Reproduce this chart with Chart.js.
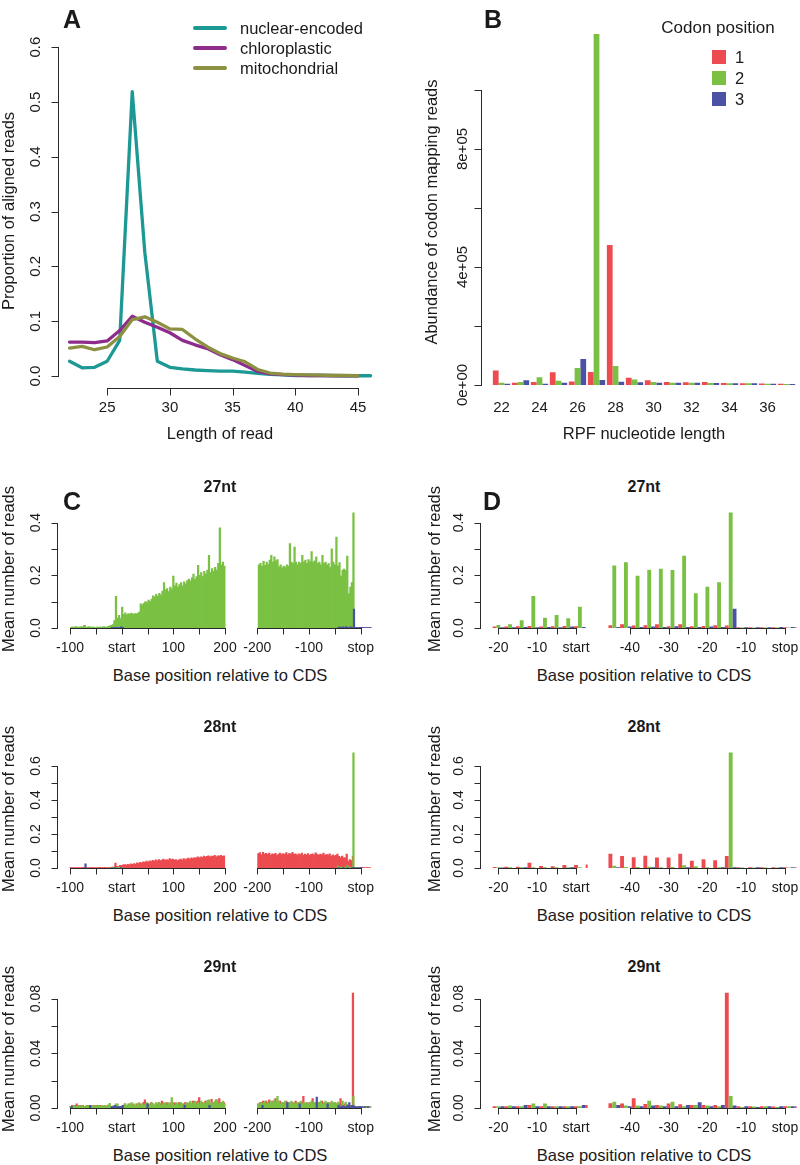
<!DOCTYPE html>
<html>
<head>
<meta charset="utf-8">
<title>Read length and codon position profiles</title>
<script src="https://cdn.jsdelivr.net/npm/chart.js@4.4.1/dist/chart.umd.min.js"></script>
<style>
  html, body { margin: 0; padding: 0; background: #fff; }
  #page { position: relative; width: 800px; height: 1165px; overflow: hidden;
          font-family: "Liberation Sans", Arial, Helvetica, sans-serif; color: #1a1a1a; }
  #page canvas { position: absolute; }
  .txt { position: absolute; white-space: nowrap; line-height: 1; transform: translate(-50%, -50%); }
  .rot { transform: translate(-50%, -50%) rotate(-90deg); }
  .lft { transform: translate(0, -50%); }
  .panel { font-weight: bold; font-size: 25px; }
  .title { font-weight: bold; font-size: 16px; }
  .axis { font-size: 16.5px; }
  .sw { position: absolute; }
</style>
</head>
<body>
<div id="page">
  <div class="txt panel" style="left:72px;top:19px">A</div>
  <div class="txt panel" style="left:493px;top:19px">B</div>
  <div class="txt panel" style="left:72px;top:501px">C</div>
  <div class="txt panel" style="left:492px;top:501px">D</div>

  <!-- legend A -->
  <div class="sw" style="left:193px;top:25.8px;width:34px;height:4.5px;border-radius:2px;background:#1c9995"></div>
  <div class="sw" style="left:193px;top:45.8px;width:34px;height:4.5px;border-radius:2px;background:#8e2c8e"></div>
  <div class="sw" style="left:193px;top:65.8px;width:34px;height:4.5px;border-radius:2px;background:#8c9141"></div>
  <div class="txt lft axis" style="left:240px;top:28px">nuclear-encoded</div>
  <div class="txt lft axis" style="left:240px;top:48px">chloroplastic</div>
  <div class="txt lft axis" style="left:240px;top:68px">mitochondrial</div>

  <!-- legend B -->
  <div class="txt" style="left:718px;top:27px;font-size:17px">Codon position</div>
  <div class="sw" style="left:712px;top:50px;width:14px;height:14px;background:#ec4b4f"></div>
  <div class="sw" style="left:712px;top:71px;width:14px;height:14px;background:#7ac143"></div>
  <div class="sw" style="left:712px;top:92px;width:14px;height:14px;background:#4b52a4"></div>
  <div class="txt lft axis" style="left:735px;top:57px">1</div>
  <div class="txt lft axis" style="left:735px;top:78px">2</div>
  <div class="txt lft axis" style="left:735px;top:99px">3</div>

  <div class="txt axis" style="left:220px;top:433px">Length of read</div>
  <div class="txt axis" style="left:644px;top:433px">RPF nucleotide length</div>
  <div class="txt axis rot" style="left:8px;top:211px">Proportion of aligned reads</div>
  <div class="txt axis rot" style="left:431px;top:212px">Abundance of codon mapping reads</div>

  <div class="txt title" style="left:220px;top:487px">27nt</div>
  <div class="txt title" style="left:644px;top:487px">27nt</div>
  <div class="txt title" style="left:220px;top:727px">28nt</div>
  <div class="txt title" style="left:644px;top:727px">28nt</div>
  <div class="txt title" style="left:220px;top:967px">29nt</div>
  <div class="txt title" style="left:644px;top:967px">29nt</div>

  <div class="txt axis" style="left:220px;top:675px">Base position relative to CDS</div>
  <div class="txt axis" style="left:644px;top:675px">Base position relative to CDS</div>
  <div class="txt axis" style="left:220px;top:915px">Base position relative to CDS</div>
  <div class="txt axis" style="left:644px;top:915px">Base position relative to CDS</div>
  <div class="txt axis" style="left:220px;top:1155px">Base position relative to CDS</div>
  <div class="txt axis" style="left:644px;top:1155px">Base position relative to CDS</div>

  <div class="txt axis rot" style="left:8px;top:569px">Mean number of reads</div>
  <div class="txt axis rot" style="left:434px;top:569px">Mean number of reads</div>
  <div class="txt axis rot" style="left:8px;top:809px">Mean number of reads</div>
  <div class="txt axis rot" style="left:434px;top:809px">Mean number of reads</div>
  <div class="txt axis rot" style="left:8px;top:1049px">Mean number of reads</div>
  <div class="txt axis rot" style="left:434px;top:1049px">Mean number of reads</div>
</div>

<script>
// ---- A: proportion of aligned reads by read length ----
const readLengths = [22, 23, 24, 25, 26, 27, 28, 29, 30, 31, 32, 33, 34, 35, 36, 37, 38, 39, 40, 41, 42, 43, 44, 45, 46];
const nuclearEncoded = [0.027, 0.015, 0.016, 0.027, 0.065, 0.519, 0.226, 0.027, 0.016, 0.013, 0.011, 0.010, 0.009,
  0.009, 0.007, 0.005, 0.003, 0.002, 0.001, 0.001, 0.001, 0.001, 0.0005, 0.0005, 0.0005];
const chloroplastic = [0.062, 0.062, 0.061, 0.064, 0.083, 0.109, 0.098, 0.089, 0.079, 0.065, 0.057, 0.050,
  0.039, 0.030, 0.019, 0.0085, 0.004, 0.0025, 0.0015, 0.001, 0.001, 0.0005, 0.0005, 0.0005];
const mitochondrial = [0.051, 0.054, 0.048, 0.053, 0.072, 0.103, 0.108, 0.098, 0.086, 0.085, 0.068, 0.053,
  0.041, 0.033, 0.026, 0.012, 0.0055, 0.0035, 0.0025, 0.002, 0.0015, 0.001, 0.001, 0.0005];

// ---- B: codon mapping reads by RPF length ----
const rpfLengths = [22, 23, 24, 25, 26, 27, 28, 29, 30, 31, 32, 33, 34, 35, 36, 37];
const codonPos1 = [49000, 8000, 10000, 43000, 12000, 44000, 475000, 25000, 16000, 10000, 9000, 10000, 7000, 5600, 5000, 4000];
const codonPos2 = [8000, 10000, 26000, 14000, 58000, 1190000, 64000, 19000, 10000, 8000, 8000, 7000, 6000, 5600, 4500, 3500];
const codonPos3 = [4500, 16000, 4500, 8000, 88000, 17000, 11000, 9000, 8000, 8000, 8000, 7000, 5600, 5600, 4500, 3400];

// ---- C / D: mean reads per base, by codon position ----
// full arrays hold one value per codon; [base, value] lists hold only the non-zero bases
const startFirstBase = -99;   // first codon position-1 base of the start window (-100..200)
const stopFirstBase = -198;   // first codon position-1 base of the stop window (-200..+20)

const nt27StartPos1 = [[-72, 0.01], [-21, 0.004], [-18, 0.004], [-15, 0.005], [-12, 0.006], [-9, 0.004], [-6, 0.005],
  [-3, 0.006], [0, 0.005], [30, 0.004], [60, 0.005], [96, 0.004], [120, 0.005], [150, 0.004], [180, 0.005]];
const nt27StartPos2 = [0.003, 0.004, 0.003, 0.005, 0.004, 0.003, 0.004, 0.005, 0.003, 0.008,
  0.003, 0.004, 0.005, 0.003, 0.004, 0.003, 0.002, 0.004, 0.003, 0.004, 0.003, 0.005, 0.004, 0.003,
  0.006, 0.008, 0.01, 0.013, 0.028, 0.12, 0.038, 0.048, 0.036, 0.079,
  0.052, 0.058, 0.05, 0.055, 0.053, 0.057, 0.052, 0.055, 0.054, 0.056, 0.06,
  0.092, 0.088, 0.094, 0.1, 0.096, 0.106, 0.1, 0.11, 0.122, 0.118, 0.128, 0.12, 0.132, 0.125, 0.14,
  0.172, 0.145, 0.15, 0.138, 0.155, 0.148, 0.197, 0.16, 0.17, 0.155,
  0.165, 0.172, 0.16, 0.175, 0.168, 0.18, 0.186, 0.178, 0.19, 0.205,
  0.185, 0.195, 0.238, 0.2, 0.21, 0.195, 0.215, 0.205, 0.22, 0.276,
  0.21, 0.225, 0.215, 0.23, 0.22, 0.245, 0.38, 0.24, 0.25, 0.235];
const nt27StartPos3 = [[-19, 0.002], [-16, 0.002], [-13, 0.003], [-10, 0.002], [-7, 0.003], [-4, 0.002], [-1, 0.004], [2, 0.003]];
const nt27StopPos1 = [[-180, 0.004], [-150, 0.005], [-120, 0.004], [-90, 0.005], [-60, 0.004], [-45, 0.009], [-42, 0.013],
  [-39, 0.008], [-36, 0.009], [-33, 0.013], [-30, 0.005], [-27, 0.013], [-24, 0.005], [-21, 0.006], [-18, 0.009],
  [-15, 0.008], [-12, 0.002], [-9, 0.002], [-6, 0.002], [-3, 0.002], [0, 0.002], [3, 0.002], [6, 0.002], [9, 0.002],
  [12, 0.002], [15, 0.002], [18, 0.002]];
const nt27StopPos2 = [0.24, 0.245, 0.235, 0.253, 0.238, 0.25, 0.242, 0.258, 0.276, 0.25,
  0.27, 0.255, 0.26, 0.232, 0.24, 0.228, 0.235, 0.23, 0.24, 0.235,
  0.32, 0.25, 0.245, 0.307, 0.25, 0.24, 0.25, 0.245, 0.276, 0.25,
  0.258, 0.245, 0.26, 0.252, 0.29, 0.25, 0.255, 0.27, 0.245, 0.25,
  0.24, 0.276, 0.245, 0.25, 0.24, 0.244, 0.23, 0.3, 0.25, 0.24,
  0.345, 0.236, 0.248, 0.197, 0.22, 0.224, 0.219, 0.273, 0.131, 0.155,
  0.172, 0.437, 0.001, 0.001, 0.001, 0.001, 0.001, 0.001, 0.001, 0.001, 0.001, 0.001, 0.001];
const nt27StopPos3 = [[-43, 0.003], [-40, 0.004], [-37, 0.003], [-34, 0.004], [-31, 0.003], [-28, 0.005], [-25, 0.003],
  [-22, 0.003], [-19, 0.004], [-16, 0.003], [-13, 0.072], [-10, 0.002], [-7, 0.002], [-4, 0.002], [-1, 0.003],
  [2, 0.003], [5, 0.002], [8, 0.002], [11, 0.002], [14, 0.002], [17, 0.002], [20, 0.002]];

const nt28StartPos1 = [0.002, 0.003, 0.002, 0.003, 0.002, 0.003, 0.002, 0.003, 0.004, 0.003,
  0.002, 0.003, 0.002, 0.003, 0.004, 0.002, 0.003, 0.002, 0.003, 0.004,
  0.003, 0.002, 0.004, 0.003, 0.002, 0.003,
  0.004, 0.005, 0.006, 0.029, 0.01, 0.008, 0.016, 0.015,
  0.018, 0.02, 0.017, 0.022, 0.019, 0.024, 0.021, 0.026, 0.023, 0.03,
  0.028, 0.034, 0.03, 0.036, 0.033, 0.04, 0.035, 0.042, 0.038, 0.045,
  0.04, 0.048, 0.042, 0.05, 0.044, 0.046, 0.052, 0.045, 0.05, 0.047,
  0.055, 0.05, 0.053, 0.046, 0.05, 0.044, 0.048, 0.052, 0.046, 0.055,
  0.05, 0.054, 0.058, 0.052, 0.06, 0.056, 0.062, 0.058, 0.065, 0.06,
  0.066, 0.062, 0.07, 0.064, 0.068, 0.072, 0.065, 0.07, 0.068, 0.074,
  0.066, 0.072, 0.07, 0.075, 0.068, 0.072];
const nt28StartPos2 = [[-20, 0.002], [-17, 0.002], [-14, 0.002], [-11, 0.002], [-8, 0.002], [-5, 0.002], [-2, 0.002], [1, 0.002]];
const nt28StartPos3 = [[-70, 0.025], [-19, 0.001], [-13, 0.002], [-1, 0.002]];
const nt28StopPos1 = [0.085, 0.09, 0.078, 0.092, 0.082, 0.086, 0.08, 0.088, 0.076, 0.084,
  0.08, 0.087, 0.075, 0.082, 0.088, 0.079, 0.085, 0.08, 0.09, 0.078,
  0.086, 0.082, 0.092, 0.08, 0.084, 0.076, 0.083, 0.079, 0.088, 0.075,
  0.082, 0.078, 0.085, 0.074, 0.08, 0.083, 0.077, 0.089, 0.08, 0.076,
  0.082, 0.078, 0.088, 0.074, 0.08, 0.076, 0.083, 0.07, 0.078, 0.072,
  0.075,
  0.082, 0.068, 0.062, 0.07, 0.06, 0.06, 0.082, 0.041, 0.049, 0.043, 0.068,
  0.002, 0.002, 0.002, 0.002, 0.002, 0.002, 0.002, 0.002, 0.002, 0.002, 0.002];
const nt28StopPos2 = [[-44, 0.012], [-41, 0.004], [-38, 0.004], [-35, 0.006], [-32, 0.003], [-29, 0.004], [-26, 0.014],
  [-23, 0.008], [-20, 0.003], [-17, 0.003], [-14, 0.678], [-11, 0.001], [-8, 0.001], [-5, 0.001], [-2, 0.001], [1, 0.001]];
const nt28StopPos3 = [[-43, 0.002], [-34, 0.002], [-25, 0.002], [-16, 0.002], [-13, 0.002], [-7, 0.002], [-1, 0.002], [2, 0.002]];

const nt29StartPos1 = [0.001, 0.002, 0.001, 0.002, 0.003, 0.001, 0.002, 0.001, 0.002, 0.001,
  0.001, 0.002, 0.001, 0.002, 0.001, 0.002, 0.001, 0.002, 0.001, 0.002,
  0.001, 0.001, 0.002, 0.001, 0.002, 0.001, 0.001, 0.001, 0.001, 0.002,
  0.001, 0.001, 0.001, 0.001,
  0.002, 0.003, 0.002, 0.001, 0.003, 0.002, 0.003, 0.002, 0.001, 0.003,
  0.002, 0.003, 0.002, 0.004, 0.006, 0.002, 0.003, 0.002, 0.004, 0.003,
  0.002, 0.003, 0.002, 0.004, 0.003, 0.005, 0.002, 0.003, 0.004, 0.003,
  0.002, 0.004, 0.003, 0.004, 0.003, 0.002, 0.004, 0.003, 0.002, 0.003,
  0.004, 0.002, 0.003, 0.004, 0.003, 0.005, 0.003, 0.004, 0.005, 0.0077,
  0.003, 0.004, 0.003, 0.005, 0.003, 0.004, 0.003, 0.0063, 0.004, 0.003,
  0.006, 0.004, 0.0068, 0.004, 0.003, 0.004];
const nt29StartPos2 = [0.001, 0.001, 0.002, 0.001, 0.001, 0.002, 0.001, 0.002, 0.001, 0.001,
  0.002, 0.001, 0.002, 0.001, 0.002, 0.001, 0.002, 0.001, 0.002, 0.001,
  0.002, 0.001, 0.002, 0.001, 0.0024, 0.0034, 0.001, 0.0015, 0.001, 0.003,
  0.003, 0.001, 0.001, 0.001,
  0.002, 0.003, 0.002, 0.003, 0.002, 0.004, 0.002, 0.003, 0.002, 0.003,
  0.004, 0.002, 0.003, 0.002, 0.003, 0.004, 0.002, 0.003, 0.004, 0.003,
  0.002, 0.004, 0.003, 0.004, 0.002, 0.003, 0.004, 0.003, 0.002, 0.004,
  0.003, 0.0077, 0.003, 0.002, 0.004, 0.003, 0.002, 0.004, 0.003, 0.002,
  0.003, 0.004, 0.003, 0.005, 0.003, 0.004, 0.005, 0.003, 0.004, 0.003,
  0.005, 0.003, 0.004, 0.003, 0.0056, 0.006, 0.003, 0.004, 0.003, 0.005,
  0.006, 0.003, 0.004, 0.003, 0.005, 0.003];
const nt29StartPos3 = [[-97, 0.001], [-61, 0.002], [-19, 0.001], [-16, 0.001], [-13, 0.002], [-10, 0.001], [-7, 0.001],
  [-4, 0.001], [-1, 0.001], [2, 0.002], [50, 0.003], [122, 0.002], [170, 0.002]];
const nt29StopPos1 = [0.003, 0.004, 0.004, 0.005, 0.003, 0.005, 0.004, 0.006, 0.003, 0.005,
  0.004, 0.0068, 0.004, 0.003, 0.005, 0.003, 0.004, 0.003, 0.005, 0.003,
  0.004, 0.003, 0.004, 0.003, 0.005, 0.003, 0.004, 0.003, 0.004, 0.0086,
  0.003, 0.004, 0.003, 0.004, 0.003, 0.0068, 0.003, 0.004, 0.003, 0.004,
  0.003, 0.005, 0.003, 0.004, 0.003, 0.004, 0.003, 0.004, 0.003, 0.004,
  0.003,
  0.0032, 0.003, 0.0068, 0.0027, 0.002, 0.003, 0.0025, 0.002, 0.002, 0.002, 0.084,
  0.001, 0.001, 0.001, 0.0008, 0.001, 0.001, 0.001, 0.001, 0.001, 0.001, 0.001];
const nt29StopPos2 = [0.003, 0.004, 0.003, 0.004, 0.005, 0.003, 0.004, 0.003, 0.005, 0.004,
  0.006, 0.004, 0.0086, 0.005, 0.003, 0.004, 0.003, 0.005, 0.003, 0.004,
  0.003, 0.005, 0.003, 0.004, 0.003, 0.004, 0.003, 0.005, 0.003, 0.004,
  0.003, 0.004, 0.003, 0.004, 0.005, 0.003, 0.004, 0.003, 0.004, 0.003,
  0.005, 0.003, 0.004, 0.005, 0.003, 0.004, 0.003, 0.005, 0.003, 0.004,
  0.003,
  0.0044, 0.0015, 0.0015, 0.0051, 0.0015, 0.0044, 0.001, 0.002, 0.0015, 0.001, 0.0085,
  0.0005, 0.0008, 0.001, 0.0005, 0.001, 0.0008, 0.0005, 0.001, 0.0005, 0.001, 0.0008];
const nt29StopPos3 = [[-190, 0.002], [-142, 0.004], [-118, 0.003], [-85, 0.008], [-64, 0.003], [-43, 0.002], [-40, 0.001],
  [-37, 0.001], [-34, 0.0015], [-31, 0.001], [-28, 0.001], [-25, 0.002], [-22, 0.004], [-19, 0.001], [-16, 0.002],
  [-13, 0.0015], [-10, 0.001], [-7, 0.0005], [-4, 0.001], [-1, 0.001], [2, 0.001], [8, 0.001], [14, 0.001]];

// ---------------------------------------------------------------------------
const RED = '#ec4b4f', GREEN = '#7ac143', BLUE = '#4b52a4';
const FRAME_COLORS = [RED, GREEN, BLUE];
const FONT = '"Liberation Sans", Arial, sans-serif';

// R-style axes: line only between the end ticks, ticks pointing out, rotated y labels
const rAxes = {
  id: 'rAxes',
  afterDraw(chart, args, opts) {
    const { ctx, chartArea: a, scales } = chart;
    const crisp = (v) => Math.round(v) + 0.5;
    ctx.save();
    ctx.lineWidth = 1;
    ctx.strokeStyle = '#2a2a2a';
    ctx.fillStyle = '#1a1a1a';

    const ax = opts.x;
    if (ax) {
      const s = scales.x;
      const y0 = crisp(a.bottom + (ax.shift || 0));
      ctx.font = ax.font;
      ctx.textAlign = 'center';
      ctx.textBaseline = 'middle';
      if (ax.line) {
        ctx.beginPath();
        ctx.moveTo(crisp(s.getPixelForValue(ax.line[0])) - 0.5, y0);
        ctx.lineTo(crisp(s.getPixelForValue(ax.line[1])) + 0.5, y0);
        ctx.stroke();
      }
      ax.ticks.forEach((v, i) => {
        const px = s.getPixelForValue(v);
        if (ax.tickLen) {
          ctx.beginPath();
          ctx.moveTo(crisp(px), y0);
          ctx.lineTo(crisp(px), y0 + ax.tickLen);
          ctx.stroke();
        }
        if (ax.labels[i]) ctx.fillText(ax.labels[i], px, a.bottom + ax.gap);
      });
    }

    const ay = opts.y;
    if (ay) {
      const s = scales.y;
      const x0 = crisp(a.left + (ay.shift || 0));
      ctx.font = ay.font;
      ctx.beginPath();
      ctx.moveTo(x0, crisp(s.getPixelForValue(ay.line[0])) + 0.5);
      ctx.lineTo(x0, crisp(s.getPixelForValue(ay.line[1])) - 0.5);
      ctx.stroke();
      ay.ticks.forEach((v, i) => {
        const py = s.getPixelForValue(v);
        ctx.beginPath();
        ctx.moveTo(x0, crisp(py));
        ctx.lineTo(x0 - ay.tickLen, crisp(py));
        ctx.stroke();
        if (ay.labels[i]) {
          ctx.save();
          ctx.translate(x0 - ay.gap, py);
          ctx.rotate(-Math.PI / 2);
          ctx.textAlign = 'center';
          ctx.textBaseline = 'middle';
          ctx.fillText(ay.labels[i], 0, 0);
          ctx.restore();
        }
      });
    }
    ctx.restore();
  }
};
Chart.register(rAxes);

// put a canvas on the page so that its chart area lands on the given rectangle
function placeChart(area, pad, config) {
  const page = document.getElementById('page');
  const canvas = document.createElement('canvas');
  const left = Math.max(0, Math.floor(area.l - pad[0]));
  const top = Math.max(0, Math.floor(area.t - pad[1]));
  const right = Math.min(800, Math.ceil(area.r + pad[2]));
  const bottom = Math.min(1165, Math.ceil(area.b + pad[3]));
  canvas.width = right - left;
  canvas.height = bottom - top;
  canvas.style.left = left + 'px';
  canvas.style.top = top + 'px';
  canvas.style.width = (right - left) + 'px';
  canvas.style.height = (bottom - top) + 'px';
  page.insertBefore(canvas, page.firstChild);

  const options = config.options;
  options.responsive = false;
  options.animation = false;
  options.events = [];
  options.layout = { padding: { left: area.l - left, top: area.t - top, right: right - area.r, bottom: bottom - area.b } };
  options.plugins = Object.assign({ legend: { display: false }, tooltip: { enabled: false } }, options.plugins);
  return new Chart(canvas, config);
}

function points(xs, ys) {
  return ys.map((y, i) => ({ x: xs[i], y }));
}

// ---- panel A ----
placeChart({ l: 57.5, r: 382.6, t: 34, b: 389.2 }, [58, 10, 10, 40], {
  type: 'line',
  data: {
    datasets: [
      { label: 'nuclear-encoded', data: points(readLengths, nuclearEncoded), borderColor: '#1c9995', order: 3 },
      { label: 'chloroplastic', data: points(readLengths, chloroplastic), borderColor: '#8e2c8e', order: 2 },
      { label: 'mitochondrial', data: points(readLengths, mitochondrial), borderColor: '#8c9141', order: 1 }
    ]
  },
  options: {
    elements: { line: { borderWidth: 3.3, tension: 0, borderJoinStyle: 'round', borderCapStyle: 'round' }, point: { radius: 0 } },
    scales: {
      x: { type: 'linear', min: 21.04, max: 46.96, display: false },
      y: { type: 'linear', min: -0.024, max: 0.624, display: false }
    },
    plugins: {
      rAxes: {
        x: { line: [25, 45], ticks: [25, 30, 35, 40, 45], labels: ['25', '30', '35', '40', '45'],
             tickLen: 7, gap: 19, shift: -1, font: '15px ' + FONT },
        y: { line: [0, 0.6], ticks: [0, 0.1, 0.2, 0.3, 0.4, 0.5, 0.6],
             labels: ['0.0', '0.1', '0.2', '0.3', '0.4', '0.5', '0.6'], tickLen: 7, gap: 22.5, font: '15px ' + FONT }
      }
    }
  }
});

// ---- panel B ----
placeChart({ l: 492, r: 796, t: 19.2, b: 385 }, [60, 5, 4, 40], {
  type: 'bar',
  data: {
    labels: rpfLengths,
    datasets: [
      { label: '1', data: codonPos1, backgroundColor: RED },
      { label: '2', data: codonPos2, backgroundColor: GREEN },
      { label: '3', data: codonPos3, backgroundColor: BLUE }
    ]
  },
  options: {
    categoryPercentage: 0.91,
    barPercentage: 1,
    scales: {
      x: { type: 'category', display: false },
      y: { type: 'linear', min: 0, max: 1240000, display: false }
    },
    plugins: {
      rAxes: {
        x: { ticks: [0, 2, 4, 6, 8, 10, 12, 14], labels: ['22', '24', '26', '28', '30', '32', '34', '36'],
             tickLen: 0, gap: 23, font: '15px ' + FONT },
        y: { shift: -11, line: [0, 1000000], ticks: [0, 200000, 400000, 600000, 800000, 1000000],
             labels: ['0e+00', null, '4e+05', null, '8e+05', null], tickLen: 7, gap: 19, font: '15px ' + FONT }
      }
    }
  }
});

// ---- panels C and D ----
function codonSeries(values, firstBase, frame) {
  if (Array.isArray(values[0])) return values.map(([x, y]) => ({ x, y }));
  return values.map((y, i) => ({ x: firstBase + 3 * i + frame, y }));
}

const profileRows = [
  { base: 628, top: 509.4, yMax: 0.45, yTicks: [0, 0.1, 0.2, 0.3, 0.4], yLabels: ['0.0', null, '0.2', null, '0.4'],
    start: [nt27StartPos1, nt27StartPos2, nt27StartPos3], stop: [nt27StopPos1, nt27StopPos2, nt27StopPos3] },
  { base: 868, top: 749, yMax: 0.7, yTicks: [0, 0.1, 0.2, 0.3, 0.4, 0.5, 0.6], yLabels: ['0.0', null, '0.2', null, '0.4', null, '0.6'],
    start: [nt28StartPos1, nt28StartPos2, nt28StartPos3], stop: [nt28StopPos1, nt28StopPos2, nt28StopPos3] },
  { base: 1108, top: 987.7, yMax: 0.088, yTicks: [0, 0.02, 0.04, 0.06, 0.08], yLabels: ['0.00', null, '0.04', null, '0.08'],
    start: [nt29StartPos1, nt29StartPos2, nt29StartPos3], stop: [nt29StopPos1, nt29StopPos2, nt29StopPos3] }
];

const profileWindows = [
  { seg: 'start', l: 69.22, r: 225.78, x: [-101.5, 201.5], barW: 1.6, yAxisX: 56.7, pad: [48, 6, 22, 32],
    line: [-100, 200], ticks: [-100, -50, 0, 50, 100, 150, 200], labels: ['-100', null, 'start', null, '100', null, '200'] },
  { seg: 'stop', l: 256.59, r: 371.55, x: [-201.5, 21], barW: 1.6, pad: [22, 6, 22, 32],
    line: [-200, 0], ticks: [-200, -150, -100, -50, 0], labels: ['-200', null, '-100', null, 'stop'] },
  { seg: 'start', l: 490.64, r: 587.64, x: [-22, 3], barW: 3.2, yAxisX: 480, pad: [48, 6, 20, 32],
    line: [-20, 0], ticks: [-20, -15, -10, -5, 0], labels: ['-20', null, '-10', null, 'start'] },
  { seg: 'stop', l: 606.52, r: 796.64, x: [-46, 3], barW: 3.2, pad: [20, 6, 4, 32],
    line: [-40, 0], ticks: [-40, -35, -30, -25, -20, -15, -10, -5, 0],
    labels: ['-40', null, '-30', null, '-20', null, '-10', null, 'stop'] }
];

profileRows.forEach((row) => {
  profileWindows.forEach((win) => {
    const firstBase = win.seg === 'start' ? startFirstBase : stopFirstBase;
    const datasets = row[win.seg].map((vals, f) => ({
      label: 'codon position ' + (f + 1),
      data: codonSeries(vals, firstBase, f),
      backgroundColor: FRAME_COLORS[f],
      borderWidth: 0,
      barThickness: win.barW,
      grouped: false,
      order: 3 - f
    }));
    const axes = {
      x: { line: win.line, ticks: win.ticks, labels: win.labels, tickLen: 6, gap: 20, font: '14px ' + FONT }
    };
    if (win.yAxisX !== undefined) {
      axes.y = { shift: win.yAxisX - win.l, line: [0, row.yTicks[row.yTicks.length - 1]], ticks: row.yTicks,
                 labels: row.yLabels, tickLen: 6, gap: 21, font: '14px ' + FONT };
    }
    placeChart({ l: win.l, r: win.r, t: row.top, b: row.base }, win.pad, {
      type: 'bar',
      data: { datasets },
      options: {
        scales: {
          x: { type: 'linear', min: win.x[0], max: win.x[1], offset: false, display: false },
          y: { type: 'linear', min: 0, max: row.yMax, display: false }
        },
        plugins: { rAxes: axes }
      }
    });
  });
});
</script>
</body>
</html>
